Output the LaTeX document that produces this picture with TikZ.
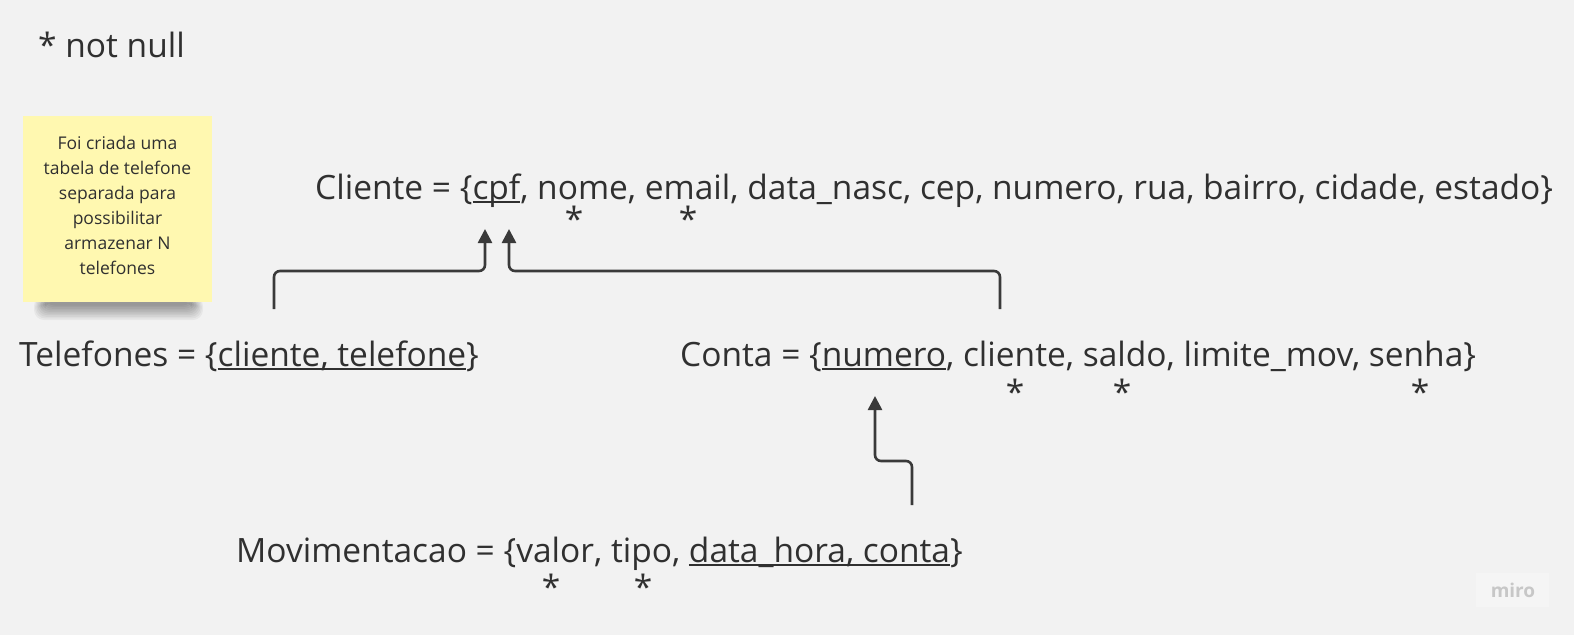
\documentclass[tikz,border=0pt]{standalone}
\usepackage{fontspec}
\setmainfont{Open Sans}
\usetikzlibrary{arrows.meta}
\definecolor{bg}{HTML}{F2F2F2}
\definecolor{ink}{HTML}{303030}
\definecolor{note}{HTML}{FFF8B0}
\definecolor{arr}{HTML}{3A3A3A}
\newcommand{\ulx}[1]{\setbox0\hbox{#1}\rlap{\rule[-3.5pt]{\wd0}{1.8pt}}\box0}
\tikzset{
  rel/.style={anchor=base west, inner sep=0pt, text=ink, font=\fontsize{33.5}{40}\selectfont},
  star/.style={anchor=base, inner sep=0pt, text=ink, font=\fontsize{33.5}{40}\selectfont},
  conn/.style={draw=arr, line width=2.6pt, rounded corners=6pt, -{Triangle[length=14pt,width=14pt]}},
}
\begin{document}
\begin{tikzpicture}[x=1pt,y=-1pt]
\fill[bg] (0,0) rectangle (1574,635);
\useasboundingbox (0,0) rectangle (1574,635);
% legend
\node[rel] (legend) at (38,57) {* not null};
% sticky note shadow
\foreach \i in {0,...,9} {
  \fill[black, opacity=0.045, rounded corners=10pt]
    ({34+\i*1.2},{296+\i*0.6}) rectangle ({203-\i*1.2},{320-\i*1.6});
}
% sticky note
\node[fill=note, minimum width=189pt, minimum height=186pt, inner sep=0pt, anchor=north west] (note) at (23,116) {};
\node[text=ink, align=center, inner sep=0pt, font=\fontsize{17.5}{25}\selectfont] (notetext) at (117.5,205)
  {Foi criada uma\\tabela de telefone\\separada para\\possibilitar\\armazenar N\\telefones};
% relations
\node[rel] (cliente) at (315,199) {Cliente = \{\ulx{cpf}, nome, email, data\_nasc, cep, numero, rua, bairro, cidade, estado\}};
\node[star] (s1) at (574,231) {*};
\node[star] (s2) at (688,231) {*};
\node[rel] (tel) at (19,366.5) {Telefones = \{\ulx{cliente, telefone}\}};
\node[rel] (conta) at (680,366.5) {Conta = \{\ulx{numero}, cliente, saldo, limite\_mov, senha\}};
\node[star] (s3) at (1015,404) {*};
\node[star] (s4) at (1122,404) {*};
\node[star] (s5) at (1420,404) {*};
\node[rel] (mov) at (236,562) {Movimentacao = \{valor, tipo, \ulx{data\_hora, conta}\}};
\node[star] (s6) at (551,599) {*};
\node[star] (s7) at (643,599) {*};
% connector anchors
\coordinate (t1) at (485,229);
\coordinate (t2) at (509,229);
\coordinate (t3) at (875,396);
\coordinate (f1) at (274,309);
\coordinate (f2) at (1000,309);
\coordinate (f3) at (912,505);
\draw[conn] (f1) |- (378,271) -| (t1);
\draw[conn] (f2) |- (750,271) -| (t2);
\draw[conn] (f3) |- (890,461) -| (t3);
% miro logo
\fill[white, opacity=0.25] (1476,573) rectangle (1549,607);
\node[text=black!22, font=\fontsize{19}{22}\selectfont\bfseries, inner sep=0pt] (miro) at (1513,590) {miro};
\end{tikzpicture}
\end{document}
